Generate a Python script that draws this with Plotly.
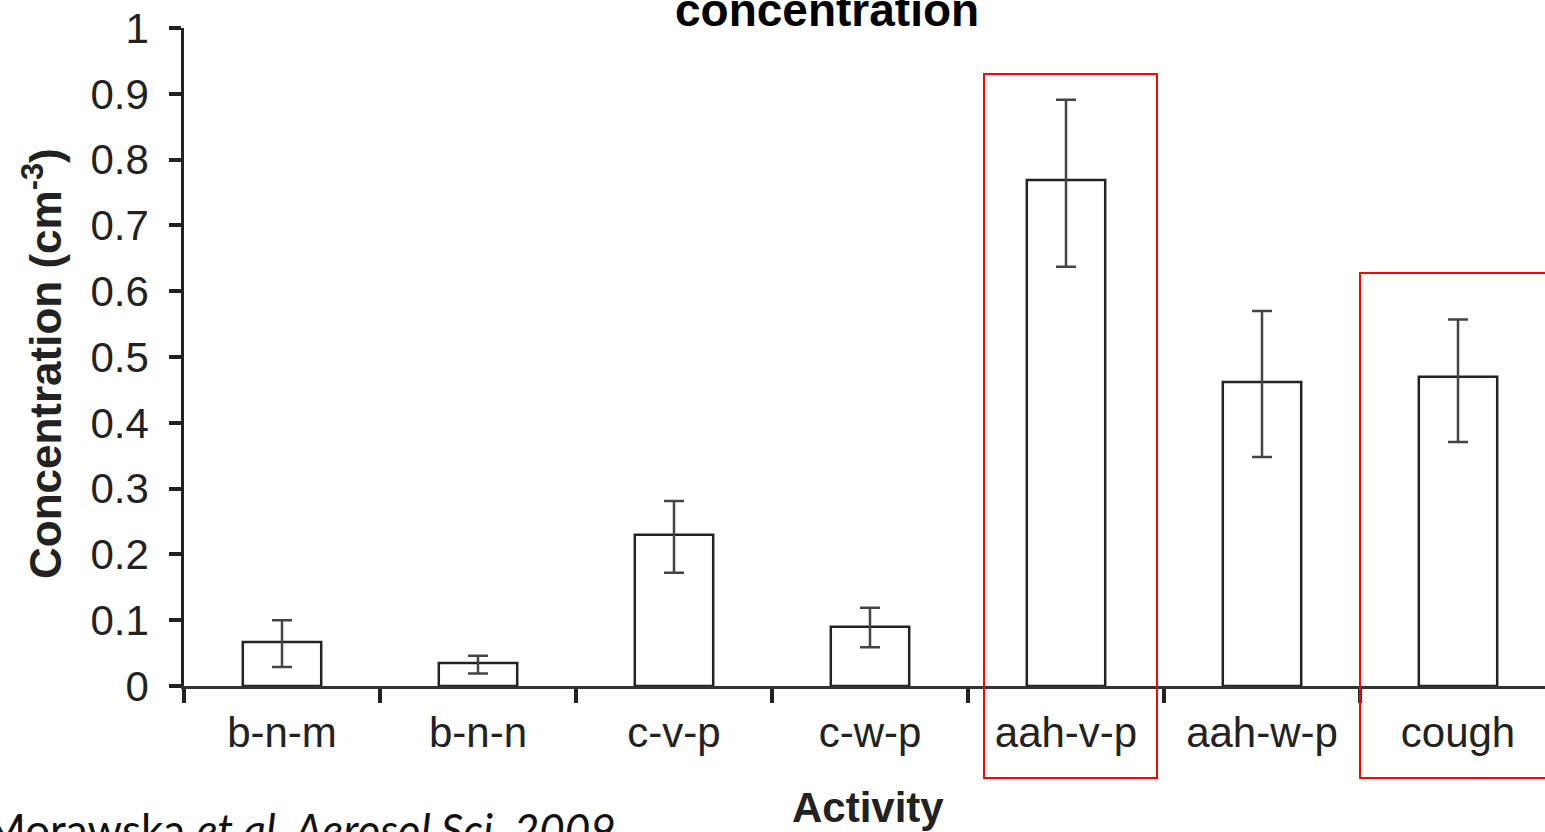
import plotly.graph_objects as go

categories = ["b-n-m", "b-n-n", "c-v-p", "c-w-p", "aah-v-p", "aah-w-p", "cough"]
concentration = [0.067, 0.035, 0.230, 0.090, 0.769, 0.462, 0.470]
err_plus = [0.033, 0.011, 0.051, 0.029, 0.122, 0.108, 0.087]
err_minus = [0.038, 0.016, 0.058, 0.031, 0.132, 0.114, 0.099]
y_ticks = [0, 0.1, 0.2, 0.3, 0.4, 0.5, 0.6, 0.7, 0.8, 0.9, 1]
y_ticktext = ["0", "0.1", "0.2", "0.3", "0.4", "0.5", "0.6", "0.7", "0.8", "0.9", "1"]

W, H = 1545, 832
L, T, B = 184, 28, 146
PW = W - L
PH = H - T - B


def px(x):
    return (x - L) / PW


def py(y):
    return (H - B - y) / PH


fig = go.Figure()
fig.add_trace(go.Bar(
    x=categories,
    y=concentration,
    width=0.4,
    marker=dict(color="white", line=dict(color="#222222", width=2.5)),
    error_y=dict(type="data", symmetric=False, array=err_plus, arrayminus=err_minus,
                 color="#444444", thickness=2.5, width=10),
    showlegend=False,
))

font_family = "Liberation Sans, Arial, sans-serif"

fig.update_layout(
    width=W, height=H,
    margin=dict(l=L, r=0, t=T, b=B, pad=0),
    paper_bgcolor="white",
    plot_bgcolor="white",
    font=dict(family=font_family, color="#222222"),
    xaxis=dict(
        type="category",
        range=[-0.5, 6.5 - 11 / 196],
        showline=True, linecolor="#333333", linewidth=2.5,
        ticks="outside", ticklen=14, tickwidth=4, tickcolor="#222222",
        tickson="boundaries",
        tickfont=dict(size=42, color="#222222"),
        ticklabelstandoff=8,
        showgrid=False, zeroline=False,
    ),
    yaxis=dict(
        range=[0, 1],
        tickvals=y_ticks, ticktext=y_ticktext,
        showline=True, linecolor="#222222", linewidth=2.5,
        ticks="outside", ticklen=12, tickwidth=4, tickcolor="#222222",
        tickfont=dict(size=42, color="#222222"),
        ticklabelstandoff=12,
        showgrid=False, zeroline=False,
    ),
    annotations=[
        dict(text="<b>concentration</b>", xref="paper", yref="paper",
             x=px(827), y=py(10), xanchor="center", yanchor="middle",
             showarrow=False, font=dict(size=46, color="black", family=font_family)),
        dict(text="<b>Concentration (cm<sup>-3</sup>)</b>", xref="paper", yref="paper",
             x=px(42), y=py(364), xanchor="center", yanchor="middle", textangle=-90,
             showarrow=False, font=dict(size=44, color="#222222", family=font_family)),
        dict(text="<b>Activity</b>", xref="paper", yref="paper",
             x=px(868), y=py(807), xanchor="center", yanchor="middle",
             showarrow=False, font=dict(size=42, color="#222222", family=font_family)),
        dict(text="Morawska <i>et al. Aerosol Sci. 2009</i>", xref="paper", yref="paper",
             x=px(618), y=py(829), xanchor="right", yanchor="middle",
             showarrow=False, font=dict(size=44, color="#111111", family="Lato, Open Sans, sans-serif")),
    ],
    shapes=[
        dict(type="rect", xref="paper", yref="paper",
             x0=px(984), x1=px(1157), y0=py(778), y1=py(74),
             line=dict(color="red", width=2), fillcolor="rgba(0,0,0,0)"),
        dict(type="rect", xref="paper", yref="paper",
             x0=px(1360), x1=px(1560), y0=py(778), y1=py(273),
             line=dict(color="red", width=2), fillcolor="rgba(0,0,0,0)"),
    ],
)

fig.write_html("out.html")
